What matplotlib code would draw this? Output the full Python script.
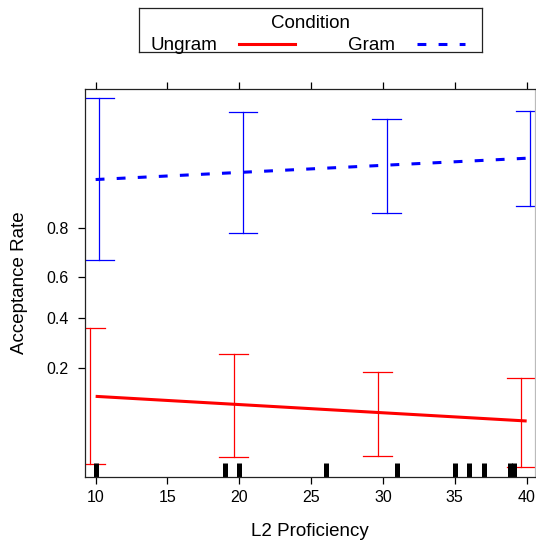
import matplotlib
matplotlib.use("Agg")
import matplotlib.pyplot as plt
from matplotlib.lines import Line2D
import numpy as np

plt.rcParams['font.family'] = ['Liberation Sans', 'DejaVu Sans']

# fitted effect (probability) at the ends of the proficiency range
fit_x = [10, 40]
ungram_fit = [0.1238, 0.0798]
gram_fit = [0.912, 0.9405]

# confidence intervals at four proficiency levels
ci_x = [10, 20, 30, 40]
ungram_lo = [0.0357, 0.0411, 0.0415, 0.0339]
ungram_hi = [0.3534, 0.248, 0.186, 0.169]
gram_lo = [0.676, 0.782, 0.843, 0.859]
gram_hi = [0.981, 0.9752, 0.972, 0.976]

# observed proficiency scores (rug)
rug_x = [10, 19, 20, 26, 31, 35, 36, 37, 38.85, 39.1]

y_ticks = [0.2, 0.4, 0.6, 0.8]
x_ticks = [10, 15, 20, 25, 30, 35, 40]

fig = plt.figure(figsize=(5.36, 5.45), dpi=100)
ax = fig.add_axes([85/536, 68/545, 450/536, 388/545])
ax.set_yscale('logit')

ax.plot(fit_x, ungram_fit, color='#ff0000', lw=2.2, solid_capstyle='butt')
ax.plot(fit_x, gram_fit, color='#0000ff', lw=2.2, linestyle=(0, (2.9, 4.0)))

def errbars(xs, lo, hi, off, col):
    for x, l, h in zip(xs, lo, hi):
        xc = x + off
        ax.plot([xc, xc], [l, h], color=col, lw=0.9)
        ax.plot([xc - 1, xc + 1], [l, l], color=col, lw=0.9)
        ax.plot([xc - 1, xc + 1], [h, h], color=col, lw=0.9)

errbars(ci_x, ungram_lo, ungram_hi, -0.38, '#ff0000')
errbars(ci_x, gram_lo, gram_hi, 0.25, '#0000ff')

trans = ax.get_xaxis_transform()
ax.vlines(rug_x, 0, 0.036, color='black', lw=3.6, transform=trans)

ax.set_xlim(9.26, 40.58)
ax.set_ylim(0.0278, 0.9842)
ax.set_yticks(y_ticks)
ax.set_yticklabels([str(t) for t in y_ticks])
ax.yaxis.set_minor_locator(matplotlib.ticker.NullLocator())
ax.yaxis.set_minor_formatter(matplotlib.ticker.NullFormatter())
ax.set_xticks(x_ticks)
ax.tick_params(axis='x', top=True, bottom=True, direction='out', length=5,
               width=0.9, labelsize=11.5, pad=4)
ax.tick_params(axis='y', left=True, right=False, direction='out', length=5,
               width=0.9, labelsize=11.5, pad=7)
for s in ax.spines.values():
    s.set_color('#222222')
    s.set_linewidth(0.9)
ax.spines['right'].set_color('#bbbbbb')

fig.text(310/536, 1 - 531/545, 'L2 Proficiency', ha='center', va='center', fontsize=13.5)
fig.text(20/536, 1 - 283/545, 'Acceptance Rate', ha='center', va='center',
         rotation=90, fontsize=13.5)

# legend box
lg = fig.add_axes([139/536, 1 - 52/545, 343/536, 44/545])
lg.set_xlim(139, 482)
lg.set_ylim(52, 8)
lg.set_xticks([])
lg.set_yticks([])
for s in lg.spines.values():
    s.set_color('#222222')
    s.set_linewidth(0.9)
lg.text(310, 23, 'Condition', ha='center', va='center', fontsize=13.5)
lg.text(151, 45, 'Ungram', ha='left', va='center', fontsize=13.5)
lg.text(348, 45, 'Gram', ha='left', va='center', fontsize=13.5)
lg.add_line(Line2D([239, 295], [43.5, 43.5], color='#ff0000', lw=2.2))
lg.add_line(Line2D([417, 465], [43.5, 43.5], color='#0000ff', lw=2.2,
                   linestyle=(0, (2.9, 4.0))))

fig.savefig('out.png', dpi=100)
